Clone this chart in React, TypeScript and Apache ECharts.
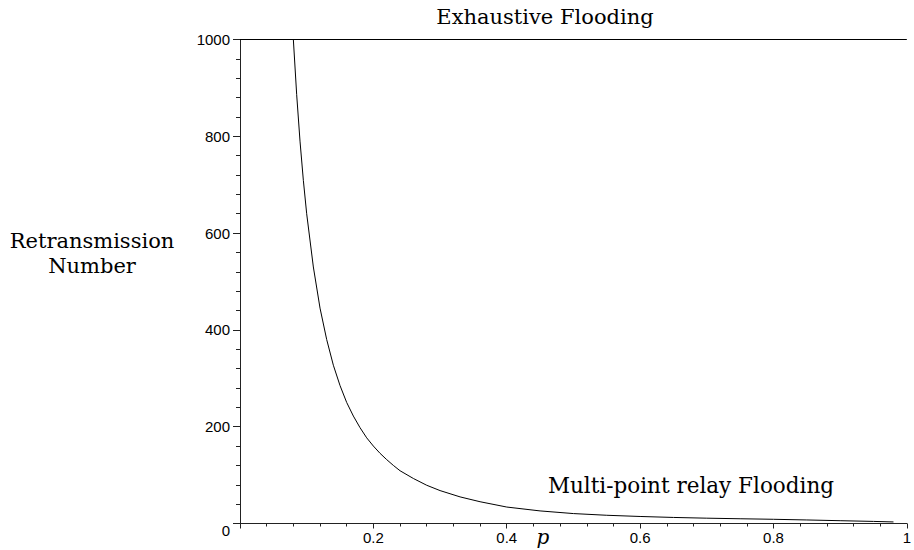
import React, { useEffect, useRef } from "react";
import * as echarts from "echarts";

const pValues = [0.08, 0.085, 0.09, 0.095, 0.1, 0.11, 0.12, 0.13, 0.14, 0.15, 0.16, 0.17, 0.18, 0.19, 0.2, 0.21, 0.22, 0.23, 0.24, 0.26, 0.28, 0.3, 0.33, 0.36, 0.4, 0.45, 0.5, 0.55, 0.6, 0.65, 0.7, 0.75, 0.8, 0.85, 0.9, 0.95, 0.98];
const mprValues = [1000, 886, 790, 709, 640, 530, 445, 380, 327, 285, 250, 222, 198, 177, 160, 145, 132, 120, 109, 93, 79, 68, 55, 45, 34, 26, 20.5, 17, 14.5, 12.5, 11, 9.8, 8.7, 7.3, 5.8, 4.3, 3.2];
const exhaustiveP = [0, 1];
const exhaustiveValues = [1000, 1000];
const xTickLabels = ["0.2", "0.4", "0.6", "0.8", "1"];
const yTickLabels = ["0", "200", "400", "600", "800", "1000"];

const serif = "'DejaVu Serif', 'Liberation Serif', serif";
const sans = "'Liberation Sans', Arial, sans-serif";

export default function App() {
  const ref = useRef<HTMLDivElement>(null);
  useEffect(() => {
    if (!ref.current) return;
    const chart = echarts.init(ref.current, undefined, { renderer: "svg" });
    const axisColor = "#222";
    chart.setOption({
      animation: false,
      backgroundColor: "#fff",
      grid: { left: 240, right: 7, top: 39.5, bottom: 26.5, containLabel: false },
      xAxis: {
        type: "value",
        min: 0,
        max: 1,
        interval: 0.2,
        axisLine: { show: true, onZero: false, lineStyle: { color: axisColor, width: 1 } },
        axisTick: { show: true, inside: false, length: 5, lineStyle: { color: axisColor } },
        minorTick: { show: true, splitNumber: 5, length: 3, lineStyle: { color: axisColor } },
        splitLine: { show: false },
        axisLabel: {
          fontFamily: sans,
          fontSize: 15,
          color: "#000",
          margin: 6,
          formatter: (v: number) => {
            const i = Math.round(v / 0.2) - 1;
            return i >= 0 ? xTickLabels[i] : "";
          },
        },
      },
      yAxis: {
        type: "value",
        min: 0,
        max: 1000,
        interval: 200,
        axisLine: { show: true, onZero: false, lineStyle: { color: axisColor, width: 1 } },
        axisTick: { show: true, inside: false, length: 7, lineStyle: { color: axisColor } },
        minorTick: { show: true, splitNumber: 5, length: 4, lineStyle: { color: axisColor } },
        splitLine: { show: false },
        axisLabel: {
          fontFamily: sans,
          fontSize: 15,
          color: "#000",
          margin: 10,
          formatter: (v: number) => {
            const i = Math.round(v / 200);
            return i === 0 ? "{z|" + yTickLabels[0] + "}" : yTickLabels[i];
          },
          rich: {
            z: { fontFamily: sans, fontSize: 15, color: "#000", padding: [14, 0, 0, 0] },
          },
        },
      },
      series: [
        {
          name: "Exhaustive Flooding",
          type: "line",
          data: exhaustiveP.map((p, i) => [p, exhaustiveValues[i]]),
          symbol: "none",
          clip: false,
          lineStyle: { color: "#000", width: 1 },
        },
        {
          name: "Multi-point relay Flooding",
          type: "line",
          data: pValues.map((p, i) => [p, mprValues[i]]),
          symbol: "none",
          clip: false,
          lineStyle: { color: "#000", width: 1 },
        },
      ],
      graphic: [
        {
          type: "text",
          x: 545,
          y: 17,
          style: { text: "Exhaustive Flooding", fontFamily: serif, fontSize: 21, fill: "#000", align: "center", verticalAlign: "middle" },
        },
        {
          type: "text",
          x: 691,
          y: 485,
          style: { text: "Multi-point relay Flooding", fontFamily: serif, fontSize: 21.5, fill: "#000", align: "center", verticalAlign: "middle" },
        },
        {
          type: "text",
          x: 92,
          y: 253,
          style: { text: "Retransmission\nNumber", fontFamily: serif, fontSize: 21, lineHeight: 25, fill: "#000", align: "center", verticalAlign: "middle" },
        },
        {
          type: "text",
          x: 543,
          y: 537,
          style: { text: "p", fontFamily: serif, fontStyle: "italic", fontSize: 20, fill: "#000", align: "center", verticalAlign: "middle" },
        },
      ],
    });
    return () => chart.dispose();
  }, []);
  return <div ref={ref} style={{ position: "fixed", left: 0, top: 0, width: 914, height: 550, background: "#fff" }} />;
}
